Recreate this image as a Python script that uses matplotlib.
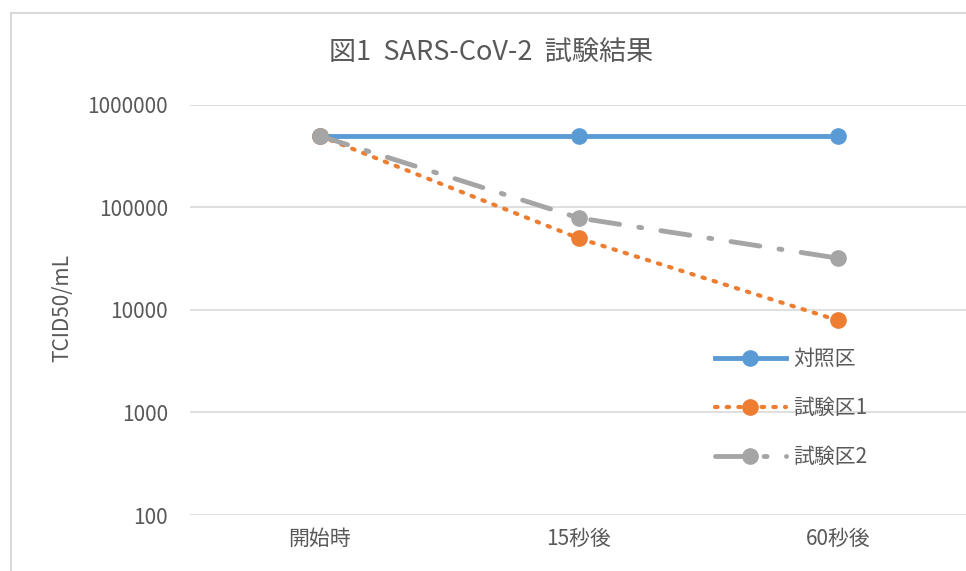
import matplotlib
matplotlib.use('Agg')
import matplotlib.pyplot as plt
from matplotlib.patches import Rectangle

plt.rcParams['font.family'] = ['Noto Sans CJK JP', 'DejaVu Sans']

categories = ['開始時', '15秒後', '60秒後']
control = [500000, 500000, 500000]
test1 = [500000, 50000, 7900]
test2 = [500000, 79000, 32000]
yticks = [100, 1000, 10000, 100000, 1000000]
ytick_labels = ['100', '1000', '10000', '100000', '1000000']

txt = '#595959'
grid_c = '#d9d9d9'

fig = plt.figure(figsize=(9.66, 5.71), dpi=100)
fig.patches.append(Rectangle((11/966, -0.1), 1.2, (571-13)/571 + 0.1,
                             transform=fig.transFigure, fill=False,
                             edgecolor=grid_c, linewidth=1.5))

ax = fig.add_axes([190/966, 56/571, 778/966, 410/571])
x = range(len(categories))

ax.plot(x, control, color='#5B9BD5', linewidth=3.5, marker='o',
        markersize=11, label='対照区', zorder=3)
ax.plot(x, test1, color='#ED7D31', linewidth=3, linestyle=(0, (0.6, 2.2)),
        dash_capstyle='round', marker='o', markersize=11, label='試験区1', zorder=4)
ax.plot(x, test2, color='#A5A5A5', linewidth=3.5, linestyle=(0, (6, 4, 0.6, 4)),
        dash_capstyle='round', marker='o', markersize=11, label='試験区2', zorder=5)

ax.set_yscale('log')
ax.set_ylim(100, 1000000)
ax.set_xlim(-0.5, 2.5)
ax.set_yticks(yticks)
ax.set_yticklabels(ytick_labels)
ax.minorticks_off()
ax.set_xticks(list(x))
ax.set_xticklabels(categories)
ax.tick_params(length=0, labelsize=15, colors=txt)
ax.tick_params(axis='y', pad=16)
ax.tick_params(axis='x', pad=9)
ax.grid(axis='y', color=grid_c, linewidth=1.2)
ax.set_axisbelow(True)
for s in ax.spines.values():
    s.set_visible(False)

fig.text(62/966, 1 - 308/571, 'TCID50/mL', rotation=90, ha='center',
         va='center', fontsize=15, color=txt)
fig.text(491/966, 1 - 52/571, '図1  SARS-CoV-2  試験結果', ha='center',
         va='center', fontsize=19.5, color=txt)

leg = ax.legend(loc='upper left', bbox_to_anchor=(715/966, 1 - 348/571),
                bbox_transform=fig.transFigure, frameon=False, fontsize=15,
                handlelength=3.4, handletextpad=0.35, labelspacing=1.3,
                borderpad=0, borderaxespad=0)
for t in leg.get_texts():
    t.set_color(txt)

fig.savefig('out.png', dpi=100)
